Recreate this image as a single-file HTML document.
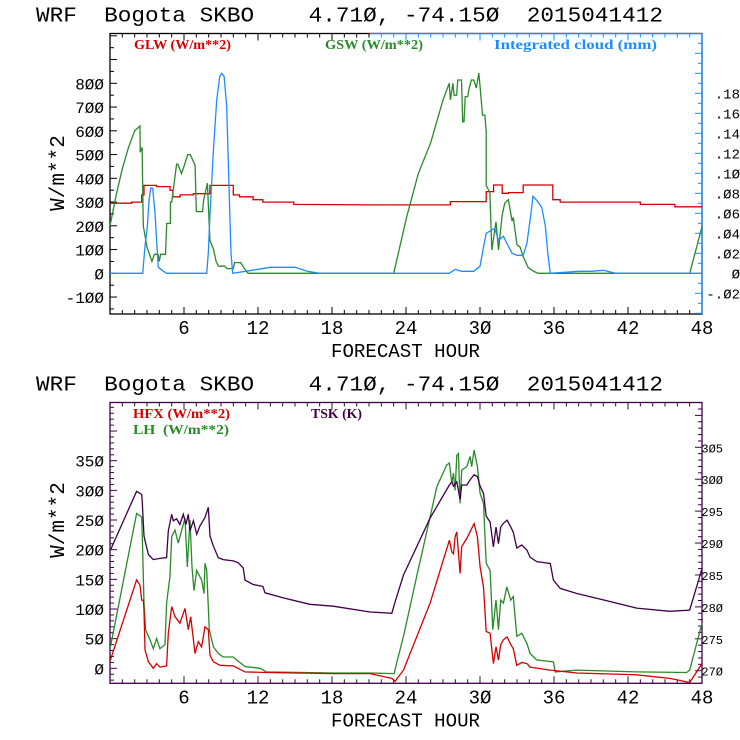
<!DOCTYPE html>
<html><head><meta charset="utf-8"><style>
html,body{margin:0;padding:0;background:#fff;width:740px;height:740px;overflow:hidden}
svg{display:block}
.t{font-family:"Liberation Mono","DejaVu Sans Mono",monospace;fill:#000;white-space:pre}
.lg{font-family:"Liberation Serif",serif;font-weight:bold;font-size:13.5px;white-space:pre}
</style></head><body>
<svg id="chart" width="740" height="740" viewBox="0 0 740 740" xmlns="http://www.w3.org/2000/svg">
<g id="top"></g>
<g id="bot"></g>
</svg>
<script>
// ---------- shared x axis ----------
const xTicks = [6, 12, 18, 24, 30, 36, 42, 48];
// ---------- top panel data ----------
const topLeftTicks = [-100, 0, 100, 200, 300, 400, 500, 600, 700, 800];
const topRightTicks = [-0.02, 0, 0.02, 0.04, 0.06, 0.08, 0.10, 0.12, 0.14, 0.16, 0.18];
const topRightLabels = ["-.02", "0", ".02", ".04", ".06", ".08", ".10", ".12", ".14", ".16", ".18"];
const glwHours = [0, 1.76, 1.76, 2.57, 2.57, 2.76, 2.76, 3.78, 3.78, 4.87, 4.87, 5.1, 5.1, 5.68, 5.68, 6.76, 6.76, 8.1, 8.1, 10, 10, 10.5, 10.5, 11.6, 11.6, 12.4, 12.4, 14.9, 14.9, 21.1, 27.6, 27.6, 30.5, 30.5, 31.1, 31.1, 31.8, 31.8, 32.3, 32.3, 33.5, 33.5, 35.9, 35.9, 36.5, 36.5, 43, 43, 45.8, 45.8, 48];
const glwValues = [295, 295, 300, 300, 330, 330, 370, 370, 365, 365, 350, 350, 322, 322, 330, 330, 335, 335, 370, 370, 330, 330, 322, 322, 310, 310, 300, 300, 290, 288, 288, 302, 302, 344, 344, 372, 372, 337, 337, 340, 340, 372, 372, 310, 310, 300, 300, 290, 290, 280, 280];
const gswHours = [0, 0.5, 1, 1.5, 2, 2.43, 2.45, 2.6, 2.7, 3.0, 3.4, 3.6, 3.9, 4.0, 4.1, 4.5, 4.6, 4.9, 4.9, 5.0, 5.4, 5.5, 5.8, 6.0, 6.3, 6.5, 6.9, 7.0, 7.5, 7.6, 7.9, 8.1, 8.4, 8.6, 8.8, 9.3, 9.5, 10, 10.1, 10.6, 10.9, 11.2, 23.0, 24.06, 25, 26, 27, 27.5, 27.6, 27.8, 27.9, 28.1, 28.2, 28.5, 28.6, 28.7, 28.8, 29.0, 29.1, 29.3, 29.5, 29.7, 29.9, 30.0, 30.2, 30.4, 30.5, 30.5, 30.8, 30.96, 31.3, 31.5, 31.8, 32.0, 32.3, 32.6, 32.7, 33.0, 33.25, 33.5, 33.9, 34.3, 34.7, 47.0, 48];
const gswValues = [200, 330, 440, 530, 600, 620, 510, 530, 200, 110, 50, 80, 80, 50, 80, 80, 210, 210, 300, 300, 460, 460, 420, 450, 500, 500, 455, 260, 260, 310, 380, 140, 100, 50, 30, 30, 20, 20, 45, 45, 20, 0, 0, 238, 420, 550, 730, 800, 730, 800, 750, 750, 814, 814, 638, 638, 744, 744, 775, 814, 814, 780, 843, 790, 666, 666, 595, 370, 340, 98, 217, 98, 245, 295, 310, 220, 235, 120, 110, 70, 25, 10, 0, 0, 196];
const cldHours = [0, 2.65, 2.84, 3.03, 3.16, 3.3, 3.46, 3.65, 3.78, 3.92, 4.33, 4.6, 7.84, 7.97, 8.1, 8.38, 8.65, 8.9, 9.06, 9.25, 9.46, 9.65, 9.81, 9.95, 11, 12, 13, 15, 16, 17, 27.5, 28, 28.5, 29.5, 30.0, 30.3, 30.5, 31.2, 31.5, 31.9, 32.3, 32.6, 33.0, 33.5, 33.8, 34.1, 34.3, 34.6, 35.0, 35.3, 35.5, 35.7, 38, 39, 40, 41, 48];
const cldValues = [0, 0, 0.027, 0.047, 0.073, 0.085, 0.085, 0.06, 0.033, 0.006, 0.002, 0, 0, 0.02, 0.057, 0.123, 0.173, 0.197, 0.2, 0.197, 0.167, 0.087, 0.02, 0, 0.002, 0.004, 0.006, 0.006, 0.002, 0, 0, 0.004, 0.002, 0.002, 0.007, 0.027, 0.04, 0.045, 0.033, 0.037, 0.027, 0.02, 0.018, 0.018, 0.03, 0.057, 0.077, 0.073, 0.066, 0.047, 0.02, 0, 0.002, 0.002, 0.003, 0, 0];
// ---------- bottom panel data ----------
const botLeftTicks = [0, 50, 100, 150, 200, 250, 300, 350];
const botRightTicks = [270, 275, 280, 285, 290, 295, 300, 305];
const tskHours = [0.03, 2.16, 2.57, 2.62, 2.76, 2.89, 3.11, 3.51, 4.05, 4.59, 4.73, 5.0, 5.13, 5.4, 5.67, 5.94, 6.16, 6.35, 6.49, 6.76, 7.03, 7.3, 7.7, 7.97, 8.11, 8.38, 8.78, 9.19, 10.0, 10.4, 10.8, 10.95, 11.6, 12.4, 12.57, 14.05, 16.2, 18.1, 21.09, 22.85, 23.12, 23.8, 25.95, 27.52, 27.71, 27.85, 28.12, 28.39, 28.52, 28.93, 29.2, 29.52, 29.79, 30.01, 30.28, 30.5, 30.82, 31.09, 31.3, 31.5, 31.68, 31.9, 32.2, 32.5, 32.7, 32.98, 33.39, 33.8, 34.06, 34.6, 35.7, 35.95, 36.5, 37.85, 40.0, 42.7, 45.4, 47.0, 48.0];
const tskValues = [288.9, 298.1, 297.6, 296.3, 291.1, 290.0, 288.2, 287.4, 287.6, 287.7, 291.9, 294.5, 293.5, 293.8, 292.9, 294.5, 292.9, 294.5, 291.9, 293.5, 291.4, 292.7, 294.0, 295.6, 291.1, 289.5, 287.7, 287.4, 287.2, 286.9, 286.1, 284.2, 283.5, 283.2, 282.2, 281.4, 280.4, 280.1, 279.2, 279.0, 280.8, 285.0, 293.9, 299.1, 299.6, 298.9, 299.6, 296.8, 299.1, 299.1, 299.9, 300.7, 300.4, 298.9, 297.8, 294.2, 293.3, 289.4, 292.5, 289.9, 292.5, 293.1, 293.6, 292.5, 291.7, 289.2, 289.7, 288.9, 287.8, 287.1, 286.8, 284.2, 282.9, 282.1, 281.1, 279.8, 279.3, 279.5, 286.0];
const hfxHours = [0.03, 2.16, 2.43, 2.57, 2.7, 2.76, 2.84, 3.11, 3.51, 3.78, 4.05, 4.59, 4.73, 5.0, 5.27, 5.67, 6.08, 6.35, 6.54, 6.76, 6.89, 7.16, 7.43, 7.7, 7.97, 8.11, 8.38, 8.92, 10.0, 10.95, 12.7, 18.1, 21.09, 22.85, 23.12, 23.8, 25.95, 27.52, 27.71, 27.85, 27.98, 28.12, 28.39, 28.52, 28.93, 29.52, 29.79, 30.01, 30.28, 30.5, 30.82, 31.09, 31.3, 31.5, 31.68, 31.9, 32.2, 32.5, 32.7, 32.98, 33.39, 33.8, 34.06, 35.7, 37.85, 42.7, 45.4, 47.0, 48.0];
const hfxValues = [14, 149, 140, 115, 115, 98, 31, 11, 0, 8, 2, 4, 59, 104, 87, 76, 101, 65, 87, 48, 25, 45, 36, 70, 65, 22, 11, 5, 4, -6, -7, -9, -9, -17, -22, -3, 110, 216, 196, 193, 222, 230, 160, 205, 219, 244, 222, 171, 137, 62, 59, 8, 36, 14, 40, 48, 53, 40, 33, 5, 10, 8, 2, -3, -8, -11, -17, -24, 8];
const lhHours = [0.03, 2.16, 2.57, 2.62, 2.76, 2.89, 3.24, 3.51, 3.78, 4.05, 4.46, 4.59, 4.86, 5.0, 5.27, 5.54, 5.81, 6.08, 6.27, 6.49, 6.65, 6.81, 7.03, 7.43, 7.62, 7.7, 7.84, 8.05, 8.38, 8.78, 9.19, 10.0, 10.27, 10.95, 12.16, 12.7, 18.1, 21.09, 23.04, 23.25, 23.8, 24.87, 25.95, 26.5, 27.3, 27.52, 27.71, 27.85, 27.98, 28.12, 28.25, 28.39, 28.52, 28.93, 29.2, 29.33, 29.52, 29.79, 30.01, 30.28, 30.5, 30.82, 31.04, 31.3, 31.5, 31.68, 31.9, 32.17, 32.5, 32.7, 32.98, 33.39, 33.8, 34.06, 34.6, 35.95, 36.1, 37.85, 42.7, 46.76, 47.0, 48.0];
const lhValues = [36, 261, 255, 222, 110, 65, 48, 33, 50, 33, 40, 110, 154, 222, 233, 211, 233, 253, 171, 250, 171, 131, 165, 149, 126, 177, 165, 65, 36, 25, 19, 19, 14, 3, 0, -6, -8, -8, -9, 10, 54, 155, 255, 306, 343, 346, 312, 329, 300, 359, 362, 278, 334, 340, 357, 340, 368, 340, 295, 278, 177, 165, 65, 115, 65, 115, 110, 137, 115, 121, 54, 59, 42, 25, 14, 11, -6, -3, -6, -7, -3, 76];

const NS = "http://www.w3.org/2000/svg";
function mk(parent, tag, attrs, text) {
  const e = document.createElementNS(NS, tag);
  for (const k in attrs) e.setAttribute(k, attrs[k]);
  if (text !== undefined) e.textContent = text;
  parent.appendChild(e);
  return e;
}
const X0 = 110, X1 = 702;
function xs(h) { return X0 + (X1 - X0) * h / 48; }
function lin(d0, d1, p0, p1) { return v => p0 + (v - d0) * (p1 - p0) / (d1 - d0); }

function drawSeries(g, hours, vals, sy, color, name) {
  const pts = hours.map((h, i) => xs(h).toFixed(1) + "," + sy(vals[i]).toFixed(1)).join(" ");
  const el = mk(g, "polyline", { points: pts, fill: "none", stroke: color, "stroke-width": 1.3 });
  
  
}

function panel(g, o) {
  const tt = mk(g, "text", { class: "t", x: 36, y: o.top - 12, "font-size": 21, textLength: 627, lengthAdjust: "spacingAndGlyphs" }, "WRF  Bogota SKBO    4.71\u00d8, -74.15\u00d8  2015041412");
  
  
  const fr = mk(g, "rect", { x: X0, y: o.top, width: X1 - X0, height: o.bot - o.top, fill: "none", stroke: o.frame, "stroke-width": 1.3 });
  
  
  if (o.rightColor) {
    const rb = mk(g, "polyline", { points: `370,${o.top} ${X1},${o.top} ${X1},${o.bot}`, fill: "none", stroke: o.rightColor, "stroke-width": 1.3 });
    
    
  }
  for (let h = 1; h < 48; h++) {
    const x = xs(h), len = h % 6 === 0 ? 7 : 4;
    mk(g, "line", { x1: x, y1: o.bot, x2: x, y2: o.bot - len, stroke: o.frame });
    mk(g, "line", { x1: x, y1: o.top, x2: x, y2: o.top + len, stroke: o.rightColor && x > 370 ? o.rightColor : o.frame });
  }
  xTicks.forEach(h => {
    const t = mk(g, "text", { class: "t", x: xs(h), y: o.bot + 20, "font-size": 19, "text-anchor": "middle" }, String(h).replace(/0/g, "\u00d8"));
    
    
  });
  const xt = mk(g, "text", { class: "t", x: 331, y: o.bot + 43, "font-size": 19, textLength: 149, lengthAdjust: "spacingAndGlyphs" }, "FORECAST HOUR");
  
  
  for (let v = o.lMin; v <= o.lMax; v += o.lMinor) {
    const y = o.sy(v);
    if (y < o.top || y > o.bot) continue;
    const major = Math.abs(v % o.lMajor) < 1e-6;
    mk(g, "line", { x1: X0, y1: y, x2: X0 + (major ? 7 : 4), y2: y, stroke: o.frame });
  }
  o.lTicks.forEach(v => {
    const t = mk(g, "text", { class: "t", x: 104, y: o.sy(v) + 6, "font-size": o.lfs, "text-anchor": "end" }, String(v).replace(/0/g, "\u00d8"));
    
    
  });
  const yt = mk(g, "text", { class: "t", x: 0, y: 0, "font-size": 21, "text-anchor": "middle", transform: `translate(${o.ytx},${o.yty}) rotate(-90)` }, "W/m**2");
  
  
  const rc = o.rightColor || o.frame;
  for (let v = o.rMin; v <= o.rMax + 1e-9; v += o.rMinor) {
    const y = o.ry(v);
    if (y < o.top || y > o.bot) continue;
    const major = Math.abs(Math.round(v / o.rMajor) * o.rMajor - v) < 1e-6;
    mk(g, "line", { x1: X1, y1: y, x2: X1 - (major ? 7 : 4), y2: y, stroke: rc });
  }
  o.rTicks.forEach((v, i) => {
    const lab = o.rLabels ? o.rLabels[i] : String(v);
    const t = mk(g, "text", { class: "t", x: o.rx, y: o.ry(v) + 5, "font-size": o.rfs, "text-anchor": "end" }, lab.replace(/0/g, "\u00d8"));
    
    
  });
}

// ----- top panel -----
const gT = document.getElementById("top");
const syT = lin(0, 800, 273.3, 83.3);
const ryT = lin(0, 0.18, 273.3, 93.3);
panel(gT, { top: 33.5, bot: 314, frame: "#000", rightColor: "#1e8cff", sy: syT, ry: ryT,
  lMin: -150, lMax: 1000, lMinor: 50, lMajor: 100, lTicks: topLeftTicks, lfs: 16,
  rMin: -0.04, rMax: 0.24, rMinor: 0.01, rMajor: 0.02, rTicks: topRightTicks, rLabels: topRightLabels, rx: 740, rfs: 14,
  ytx: 64, yty: 173 });
[["GLW (W/m**2)", 134, 97, "#d40000", "legend-glw"], ["GSW (W/m**2)", 325, 98, "#2a8a2a", "legend-gsw"], ["Integrated cloud (mm)", 494, 163, "#1e8cff", "legend-cloud"]].forEach(a => {
  const t = mk(gT, "text", { class: "lg", x: a[1], y: 49, fill: a[3], textLength: a[2], lengthAdjust: "spacingAndGlyphs" }, a[0]);
  
  
});
drawSeries(gT, glwHours, glwValues, syT, "#d40000", "glw-line");
drawSeries(gT, gswHours, gswValues, syT, "#2a8a2a", "gsw-line");
drawSeries(gT, cldHours, cldValues, ryT, "#1e8cff", "cloud-line");

// ----- bottom panel -----
const gB = document.getElementById("bot");
const syB = lin(0, 350, 668.3, 460.7);
const ryB = lin(270, 305, 670.7, 447.3);
panel(gB, { top: 402.5, bot: 683.3, frame: "#400048", sy: syB, ry: ryB,
  lMin: -30, lMax: 470, lMinor: 10, lMajor: 50, lTicks: botLeftTicks, lfs: 16,
  rMin: 267, rMax: 315, rMinor: 1, rMajor: 5, rTicks: botRightTicks, rx: 723, rfs: 12,
  ytx: 64, yty: 520 });
[["HFX (W/m**2)", 133, 418, 97, "#d40000", "legend-hfx"], ["LH  (W/m**2)", 133, 434, 96, "#2a8a2a", "legend-lh"], ["TSK (K)", 311, 418, 51, "#400048", "legend-tsk"]].forEach(a => {
  const t = mk(gB, "text", { class: "lg", x: a[1], y: a[2], fill: a[4], textLength: a[3], lengthAdjust: "spacingAndGlyphs" }, a[0]);
  
  
});
drawSeries(gB, lhHours, lhValues, syB, "#2a8a2a", "lh-line");
drawSeries(gB, hfxHours, hfxValues, syB, "#d40000", "hfx-line");
drawSeries(gB, tskHours, tskValues, ryB, "#400048", "tsk-line");
</script>
</body></html>
